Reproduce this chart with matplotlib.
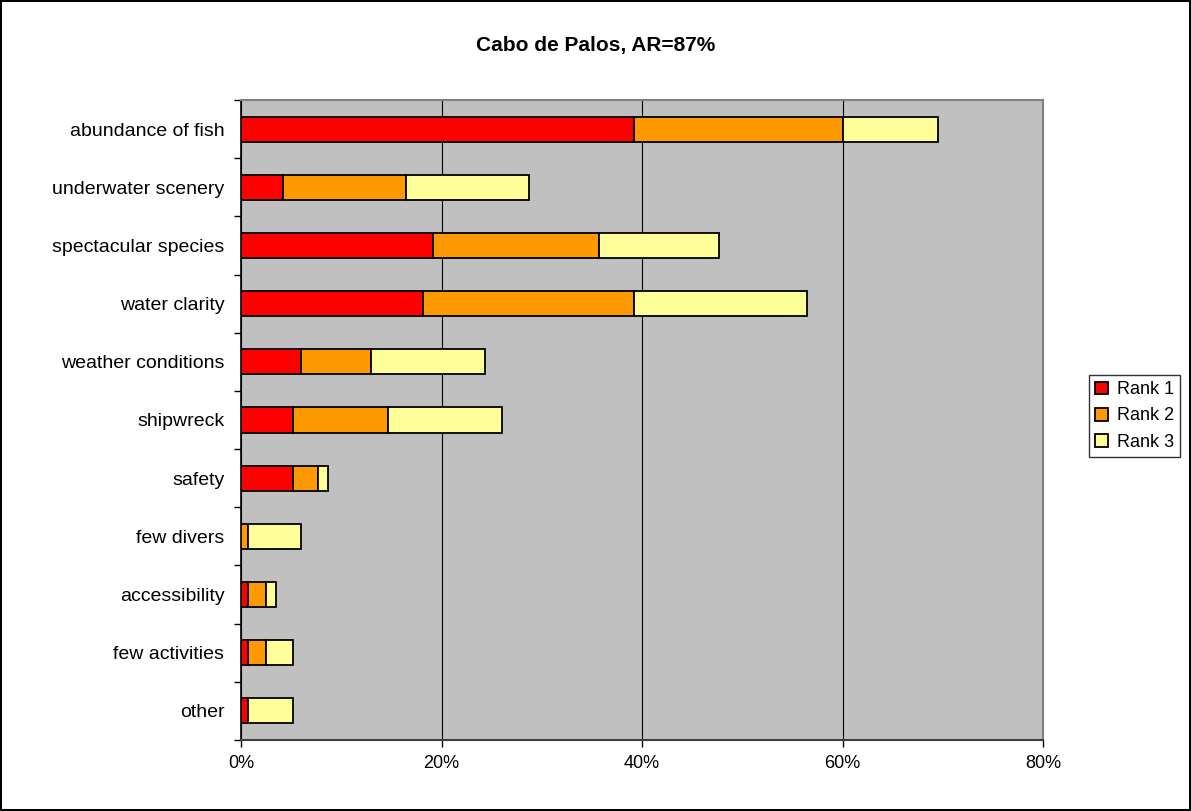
import matplotlib
matplotlib.use("Agg")
import matplotlib.pyplot as plt
from matplotlib.ticker import FuncFormatter, FixedLocator
import numpy as np

plt.rcParams["font.family"] = ["Liberation Sans", "DejaVu Sans"]

categories = ["abundance of fish", "underwater scenery", "spectacular species", "water clarity",
              "weather conditions", "shipwreck", "safety", "few divers", "accessibility",
              "few activities", "other"]
# percent of respondents per rank (segment widths)
rank1 = [39.2, 4.2, 19.2, 18.2, 6.0, 5.2, 5.2, 0.0, 0.7, 0.7, 0.7]
rank2 = [20.8, 12.3, 16.5, 21.0, 7.0, 9.5, 2.5, 0.7, 1.8, 1.8, 0.0]
rank3 = [9.5, 12.2, 12.0, 17.3, 11.3, 11.3, 1.0, 5.3, 1.0, 2.7, 4.5]
series = [("Rank 1", rank1, "#FF0000"), ("Rank 2", rank2, "#FF9900"), ("Rank 3", rank3, "#FFFF99")]

fig = plt.figure(figsize=(11.91, 8.11), dpi=100)
fig.patch.set_edgecolor("black")
fig.patch.set_linewidth(1.5)
ax = fig.add_axes([241/1191, 1-740/811, (1043-241)/1191, 640/811])
ax.set_facecolor("#C0C0C0")

y = np.arange(len(categories))
left = np.zeros(len(categories))
for name, vals, col in series:
    vals = np.array(vals)
    ax.barh(y, vals, left=left, height=0.43, color=col, edgecolor="black", linewidth=1.3,
            label=name, zorder=3)
    left += vals

ax.set_xlim(0, 80)
ax.set_ylim(len(categories)-0.5, -0.5)
ax.set_xticks([0, 20, 40, 60, 80])
ax.xaxis.set_major_formatter(FuncFormatter(lambda v, p: f"{v:.0f}%"))
ax.grid(axis="x", color="black", linewidth=0.8, zorder=1)
ax.set_yticks(y)
ax.set_yticklabels(categories)
ax.yaxis.set_minor_locator(FixedLocator(np.arange(-0.5, len(categories), 1)))
ax.tick_params(axis="y", which="major", length=0, pad=12, labelsize=14)
ax.tick_params(axis="y", which="minor", length=5, width=1, color="black", direction="out")
ax.tick_params(axis="x", length=5, width=1, direction="out", labelsize=13, pad=6)

for s in ["top", "right"]:
    ax.spines[s].set_color("#808080")
    ax.spines[s].set_linewidth(1.5)
ax.spines["left"].set_color("black")
ax.spines["bottom"].set_color("#404040")
ax.spines["left"].set_linewidth(1.2)
ax.spines["bottom"].set_linewidth(1.5)

fig.text(0.5, 1-45/811, "Cabo de Palos, AR=87%", ha="center", va="center",
         fontsize=15, fontweight="bold")

leg = ax.legend(loc="center left", bbox_to_anchor=(1089/1191, 1-416/811),
                bbox_transform=fig.transFigure, frameon=True, fancybox=False,
                fontsize=13, handlelength=0.7, handleheight=0.7, handletextpad=0.5,
                borderpad=0.35, labelspacing=0.5, borderaxespad=0)
leg.get_frame().set_edgecolor("black")
leg.get_frame().set_linewidth(1)

fig.savefig("out.png", dpi=100)
